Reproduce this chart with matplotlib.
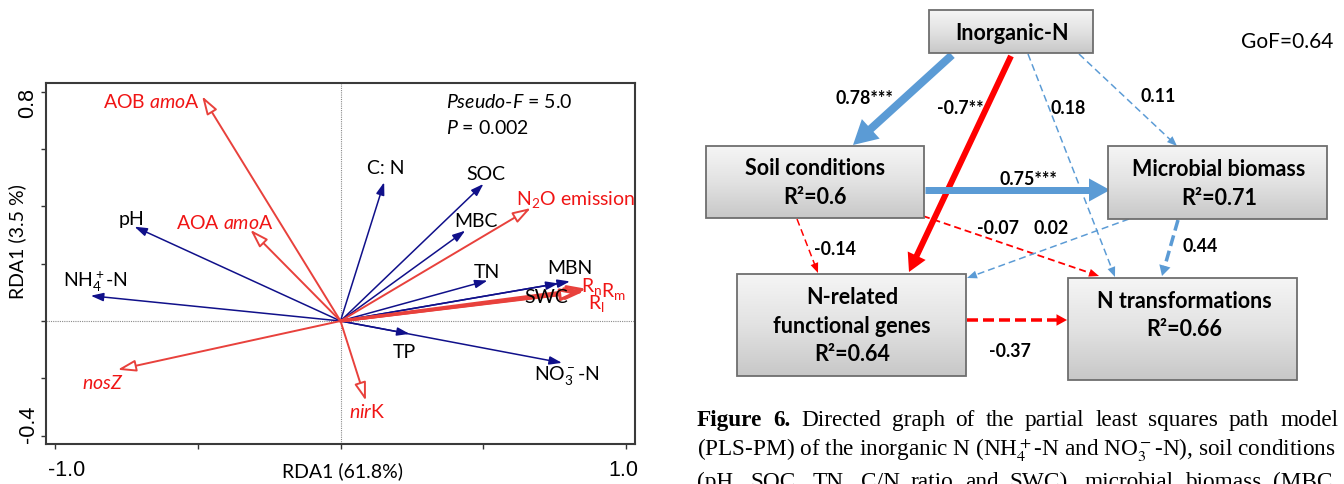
import numpy as np
import matplotlib.pyplot as plt
from matplotlib.patches import Polygon, Rectangle
from matplotlib.colors import LinearSegmentedColormap

plt.rcParams['mathtext.fontset'] = 'custom'
plt.rcParams['mathtext.rm'] = 'Lato'
plt.rcParams['mathtext.it'] = 'Lato:italic'
plt.rcParams['mathtext.bf'] = 'Lato:bold'

# ---- RDA biplot: explanatory variables (blue) ----
env_names = ['pH', r'NH$_4^+$-N', 'C: N', 'SOC', 'MBC', 'TN', 'MBN', 'SWC', 'TP', r'NO$_3^-$-N']
env_x = [-0.722, -0.875, 0.153, 0.501, 0.437, 0.515, 0.804, 0.764, 0.242, 0.776]
env_y = [0.329, 0.088, 0.484, 0.478, 0.315, 0.141, 0.138, 0.131, -0.045, -0.146]

# ---- RDA biplot: response variables (red) ----
resp_names = [r'AOB $\mathit{amo}$A', r'AOA $\mathit{amo}$A', r'$\mathit{nosZ}$', r'$\mathit{nir}$K',
              r'N$_2$O emission', r'R$_\mathrm{n}$', r'R$_\mathrm{m}$', r'R$_\mathrm{l}$']
resp_x = [-0.485, -0.316, -0.781, 0.089, 0.667, 0.863, 0.855, 0.839]
resp_y = [0.784, 0.318, -0.170, -0.278, 0.394, 0.112, 0.104, 0.100]

pseudo_f = 5.0
p_value = 0.002
rda1_pct = 61.8
rda2_pct = 3.5

# ---- PLS-PM path model ----
node_names = ['Inorganic-N', 'Soil conditions', 'Microbial biomass',
              'N-related\nfunctional genes', 'N transformations']
node_r2 = [None, 0.6, 0.71, 0.64, 0.66]
path_from = [0, 0, 0, 0, 1, 1, 1, 2, 2, 3]
path_to = [1, 3, 4, 2, 2, 3, 4, 3, 4, 4]
path_coef = [0.78, -0.7, 0.18, 0.11, 0.75, -0.14, -0.07, 0.02, 0.44, -0.37]
path_stars = ['***', '**', '', '', '***', '', '', '', '', '']
gof = 0.64

caption_l1 = 'Directed graph of the partial least squares path model'
caption_l2 = r'(PLS-PM) of the inorganic N (NH$_4^+$-N and NO$_3^-$-N), soil conditions'
caption_l3 = '(pH, SOC, TN, C/N ratio and SWC), microbial biomass (MBC,'

# ---- layout (pixels, y down) ----
env_lab_x = [-0.731, -0.860, 0.159, 0.509, 0.475, 0.513, 0.804, 0.720, 0.223, 0.794]
env_lab_y = [0.356, 0.140, 0.534, 0.516, 0.349, 0.171, 0.185, 0.084, -0.108, -0.185]
resp_lab_x = [-0.662, -0.405, -0.832, 0.093, 0.825, 0.880, 0.958, 0.897]
resp_lab_y = [0.767, 0.345, -0.213, -0.314, 0.426, 0.124, 0.108, 0.064]
resp_lw = [1.4, 1.4, 1.4, 1.4, 1.4, 2.2, 2.2, 2.2]

box_x0 = [929, 706, 1108, 737, 1068]
box_x1 = [1093, 924, 1327, 966, 1297]
box_y0 = [11, 147, 147, 275, 279]
box_y1 = [54, 219, 220, 377, 381]
box_tx = [1012, 815, 1219, 852, 1184]
box_ty = [[33], [169, 198], [170, 199], [298, 327, 355], [302, 330]]

edge_start = [(952, 56), (1011, 57), (1028, 55), (1079, 55), (925, 191),
              (797, 220), (923, 217), (1129, 220), (1178, 221), (967, 321)]
edge_end = [(853, 146), (909, 273), (1115, 278), (1177, 147), (1110, 191),
            (818, 274), (1099, 277), (967, 279), (1162, 277), (1067, 321)]
edge_lw = [8, 6, 1.5, 1.5, 7, 1.5, 1.8, 1.5, 3.5, 3.5]
edge_lab = [(864, 99), (960, 109), (1068, 108), (1158, 96), (1028, 180),
            (835, 250), (998, 229), (1051, 229), (1200, 247), (1010, 352)]

NAVY = '#10108a'
RED_A = '#e8413c'
RED_T = '#f01515'
BLUE_P = '#5b9bd5'
RED_P = '#ff0000'
SANS = 'Lato'
LAB_FS = 14

fig = plt.figure(figsize=(13.44, 4.85), dpi=100)

# ================= left: RDA biplot =================
ax = fig.add_axes([46 / 1344, 1 - 445 / 485, 589 / 1344, 361 / 485])
ax.set_xlim(-1.032, 1.032)
ax.set_ylim(-0.429, 0.830)
ax.axhline(0, color='#8a8a8a', lw=0.8, ls=(0, (1, 1)), zorder=1)
ax.axvline(0, color='#8a8a8a', lw=0.8, ls=(0, (1, 1)), zorder=1)
ax.set_xticks([-1, -0.5, 0, 0.5, 1])
ax.set_yticks([-0.4, -0.2, 0, 0.2, 0.4, 0.6, 0.8])
ax.tick_params(direction='out', length=3.5, width=1, color='#333333',
               labelleft=False, labelbottom=False)
for s in ax.spines.values():
    s.set_color('#3a3a3a')
    s.set_linewidth(1.5)

for x, y in zip(env_x, env_y):
    ax.annotate('', xy=(x, y), xytext=(0, 0),
                arrowprops=dict(arrowstyle='-|>,head_length=0.75,head_width=0.25',
                                fc=NAVY, ec=NAVY, lw=1.1, shrinkA=0, shrinkB=0,
                                mutation_scale=10), zorder=3)
for x, y, lw in zip(resp_x, resp_y, resp_lw):
    ax.annotate('', xy=(x, y), xytext=(0, 0),
                arrowprops=dict(arrowstyle='-|>,head_length=1.1,head_width=0.35',
                                fc='white', ec=RED_A, lw=lw, shrinkA=0, shrinkB=0,
                                mutation_scale=10), zorder=4)

for name, x, y in zip(env_names, env_lab_x, env_lab_y):
    ax.text(x, y, name, color='black', fontsize=LAB_FS, family=SANS,
            ha='center', va='center', zorder=5)
for name, x, y in zip(resp_names, resp_lab_x, resp_lab_y):
    ax.text(x, y, name, color=RED_T, fontsize=LAB_FS, family=SANS,
            ha='center', va='center', zorder=5)

ax.text(0.370, 0.768, r'$\mathit{Pseudo}$-$\mathit{F}$ = %.1f' % pseudo_f,
        fontsize=LAB_FS, family=SANS, ha='left', va='center')
ax.text(0.370, 0.678, r'$\mathit{P}$ = %.3f' % p_value,
        fontsize=LAB_FS, family=SANS, ha='left', va='center')

# ================= overlay in pixel coordinates =================
ov = fig.add_axes([0, 0, 1, 1])
ov.patch.set_alpha(0)
ov.axis('off')

# tick labels and axis titles of the biplot
ov.text(66.7, 471, '-1.0', fontsize=15.5, family='Liberation Sans', ha='center', va='center')
ov.text(623, 471, '1.0', fontsize=15.5, family='Liberation Sans', ha='center', va='center')
ov.text(28, 103, '0.8', fontsize=15.5, family='Liberation Sans', ha='center', va='center', rotation=90)
ov.text(28.8, 424, '-0.4', fontsize=15.5, family='Liberation Sans', ha='center', va='center', rotation=90)
ov.text(342.6, 471, 'RDA1 (%.1f%%)' % rda1_pct, fontsize=LAB_FS, family=SANS, ha='center', va='center')
ov.text(17, 242, 'RDA1 (%.1f %%)' % rda2_pct, fontsize=LAB_FS, family=SANS, ha='center', va='center',
        rotation=90)

# ================= right: path model =================
def draw_path(p0, p1, color, lw, dashed, z):
    p0 = np.array(p0, float)
    p1 = np.array(p1, float)
    u = (p1 - p0) / np.hypot(*(p1 - p0))
    n = np.array([-u[1], u[0]])
    hl = max(10, 3.0 * lw)
    hw = max(8, 3.3 * lw)
    base = p1 - u * hl
    kw = dict(color=color, lw=lw * 0.72, solid_capstyle='butt', dash_capstyle='butt', zorder=z)
    if dashed:
        on, off = (7, 4) if lw < 3 else (11, 5)
        kw['dashes'] = (on / lw, off / lw)
    end = base + u * 1.5
    ov.plot([p0[0], end[0]], [p0[1], end[1]], **kw)
    ov.add_patch(Polygon([p1, base + n * hw / 2, base - n * hw / 2], closed=True,
                         fc=color, ec='none', zorder=z))

for i in range(len(path_coef)):
    c = path_coef[i]
    col = BLUE_P if c > 0 else RED_P
    draw_path(edge_start[i], edge_end[i], col, edge_lw[i], path_stars[i] == '', 2 + 0.01 * i)
    ov.text(edge_lab[i][0], edge_lab[i][1], '%g%s' % (c, path_stars[i]), fontsize=12.8,
            family=SANS, fontweight='bold', ha='center', va='center', zorder=6)

grad_cmap = LinearSegmentedColormap.from_list('box', ['#f5f5f5', '#e2e2e2', '#c8c8c8'])
grad = np.linspace(0, 1, 64)[:, None]
for i, name in enumerate(node_names):
    x0, x1, y0, y1 = box_x0[i], box_x1[i], box_y0[i], box_y1[i]
    rect = Rectangle((x0, y0), x1 - x0, y1 - y0, fc='none', ec='#6e6e6e', lw=1.3, zorder=5)
    ov.add_patch(rect)
    im = ov.imshow(grad, cmap=grad_cmap, extent=(x0, x1, y1, y0), origin='upper',
                   aspect='auto', zorder=4, interpolation='bilinear')
    im.set_clip_path(rect)
    lines = name.split('\n')
    if node_r2[i] is not None:
        lines.append('R\u00b2=%g' % node_r2[i])
    for line, ty in zip(lines, box_ty[i]):
        ov.text(box_tx[i], ty, line, fontsize=15.5, family=SANS, fontweight='bold',
                ha='center', va='center', zorder=6)

ov.text(1287, 42, 'GoF=%g' % gof, fontsize=15, family=SANS, ha='center', va='center')

ov.set_xlim(0, 1344)
ov.set_ylim(485, 0)

# ================= caption =================
renderer = fig.canvas.get_renderer()
cx0, cx1 = 697, 1338
serif = 'Liberation Serif'
t2 = ov.text(cx0, 456, caption_l2, fontsize=17, family=serif, ha='left', va='baseline',
             math_fontfamily='stix')
w2 = t2.get_window_extent(renderer).width
cap_fs = 17 * (cx1 - cx0) / w2
t2.set_fontsize(cap_fs)


def justify(tokens, y):
    objs = []
    for word, weight in tokens:
        objs.append(ov.text(0, y, word, fontsize=cap_fs, family=serif, fontweight=weight,
                            ha='left', va='baseline'))
    widths = [t.get_window_extent(renderer).width for t in objs]
    gap = (cx1 - cx0 - sum(widths)) / (len(objs) - 1)
    x = cx0
    for t, w in zip(objs, widths):
        t.set_x(x)
        x += w + gap


justify([('Figure', 'bold'), ('6.', 'bold')] + [(w, 'normal') for w in caption_l1.split()], 426)
justify([(w, 'normal') for w in caption_l3.split()], 488)

fig.savefig('out.png', dpi=100)
